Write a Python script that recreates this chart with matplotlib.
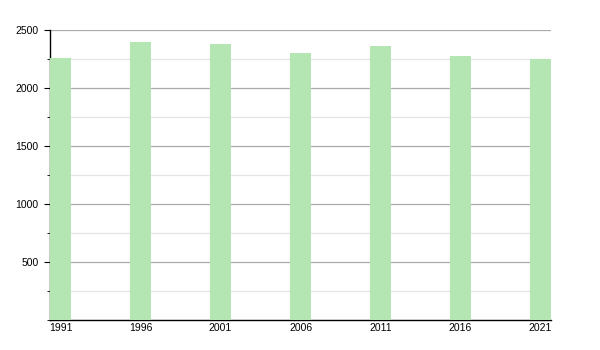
import matplotlib
matplotlib.use("Agg")
import matplotlib.pyplot as plt
from matplotlib.ticker import MultipleLocator, FixedLocator

years = ["1991", "1996", "2001", "2006", "2011", "2016", "2021"]
population = [2256, 2394, 2379, 2302, 2365, 2278, 2250]
y_ticks = [500, 1000, 1500, 2000, 2500]

plt.rcParams['font.family'] = ['Liberation Sans', 'DejaVu Sans']

fig = plt.figure(figsize=(6, 3.5), dpi=100)
ax = fig.add_axes([50/600, 30/350, 501/600, 290/350])

x = list(range(len(years)))
ax.bar(x, population, width=0.265, color='#b3e6b3', zorder=3)

ax.set_xlim(-0.132, len(years) - 1 + 0.132)
ax.set_ylim(0, 2500)
ax.set_xticks(x)
ax.set_xticklabels(years)
ax.yaxis.set_major_locator(FixedLocator(y_ticks))
ax.yaxis.set_minor_locator(MultipleLocator(250))

ax.grid(axis='y', which='major', color='#aaaaaa', linewidth=0.9, zorder=0)
ax.grid(axis='y', which='minor', color='#e4e4e4', linewidth=0.9, zorder=0)

for s in ['top', 'right']:
    ax.spines[s].set_visible(False)
for s in ['left', 'bottom']:
    ax.spines[s].set_color('black')
    ax.spines[s].set_linewidth(1.0)

ax.tick_params(axis='x', length=0, labelsize=7.5, pad=2.5)
ax.tick_params(axis='y', which='major', length=4.3, labelsize=7.5, pad=4)
ax.tick_params(axis='y', which='minor', length=2)

fig.savefig("out.png", dpi=100)
